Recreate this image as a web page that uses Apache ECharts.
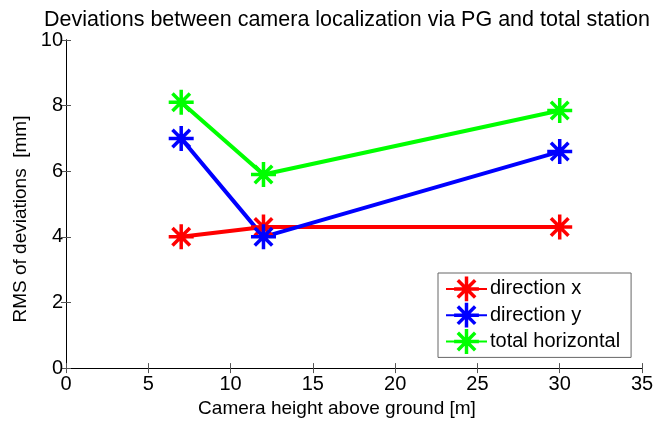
<!DOCTYPE html>
<html>
<head>
<meta charset="utf-8">
<script src="https://cdn.jsdelivr.net/npm/echarts@6/dist/echarts.min.js"></script>
<style>html,body{margin:0;padding:0;background:#fff}#c{width:658px;height:423px}</style>
</head>
<body>
<div id="c"></div>
<script>
var heights = [7, 12, 30];
var dirX = [4.0, 4.3, 4.3];
var dirY = [7.0, 4.0, 6.6];
var totalH = [8.1, 5.9, 7.85];
var seriesNames = ['direction x', 'direction y', 'total horizontal'];
var seriesColors = ['#ff0000', '#0000ff', '#00ff00'];
var xTicks = [0, 5, 10, 15, 20, 25, 30, 35];
var yTicks = [0, 2, 4, 6, 8, 10];

var star = 'path://M43 0L57 0L57 100L43 100Z M0 43L100 43L100 57L0 57Z M20 10L90 80L80 90L10 20Z M80 10L90 20L20 90L10 80Z';
var font = 'Liberation Sans, Arial, Helvetica, sans-serif';

function mk(name, ys, color) {
  return {
    name: name, type: 'line',
    data: heights.map(function (h, i) { return [h, ys[i]]; }),
    symbol: star, symbolSize: 25,
    lineStyle: { color: color, width: 4 },
    itemStyle: { color: color },
    animation: false
  };
}

var chart = echarts.init(document.getElementById('c'));
function axisCommon() {
  return {
    axisLine: { show: true, lineStyle: { color: '#000', width: 1 } },
    axisTick: { show: true, inside: true, length: 5, lineStyle: { color: '#555' } },
    splitLine: { show: false }
  };
}
chart.setOption({
  backgroundColor: '#fff',
  title: {
    text: 'Deviations between camera localization via PG and total station',
    left: 342, top: 4, textAlign: 'center',
    textStyle: { fontFamily: font, fontSize: 21.5, fontWeight: 'normal', color: '#000' }
  },
  legend: {
    orient: 'vertical', left: 438, top: 273,
    data: seriesNames,
    itemWidth: 41, itemHeight: 31, itemGap: 1.5,
    padding: [3.5, 11, 3.5, 7],
    borderColor: '#666', borderWidth: 1, backgroundColor: '#fff', borderRadius: 0,
    textStyle: { fontFamily: font, fontSize: 20, color: '#000', padding: [0, 0, 0, -2] }
  },
  grid: { left: 66, right: 16, top: 40, bottom: 54.5, containLabel: false, show: false },
  xAxis: [
    Object.assign({
      type: 'value', min: 0, max: 35, interval: 5,
      name: 'Camera height above ground [m]', nameLocation: 'middle', nameGap: 27,
      nameTextStyle: { fontFamily: font, fontSize: 19, color: '#000', padding: [0, 34, 0, 0] },
      axisLabel: { fontFamily: font, fontSize: 20, color: '#000', margin: 6 }
    }, axisCommon()),
    Object.assign({
      type: 'value', min: 0, max: 35, interval: 5, position: 'top',
      axisLabel: { show: false }
    }, axisCommon())
  ],
  yAxis: [
    Object.assign({
      type: 'value', min: 0, max: 10, interval: 2,
      name: 'RMS of deviations  [mm]', nameLocation: 'middle', nameGap: 35,
      nameTextStyle: { fontFamily: font, fontSize: 19, color: '#000', padding: [0, 30, 0, 0] },
      axisLabel: { fontFamily: font, fontSize: 20, color: '#000', margin: 3 }
    }, axisCommon()),
    Object.assign({
      type: 'value', min: 0, max: 10, interval: 2, position: 'right',
      axisLabel: { show: false }
    }, axisCommon())
  ],
  series: [
    mk(seriesNames[0], dirX, seriesColors[0]),
    mk(seriesNames[1], dirY, seriesColors[1]),
    mk(seriesNames[2], totalH, seriesColors[2])
  ]
});
</script>
</body>
</html>
